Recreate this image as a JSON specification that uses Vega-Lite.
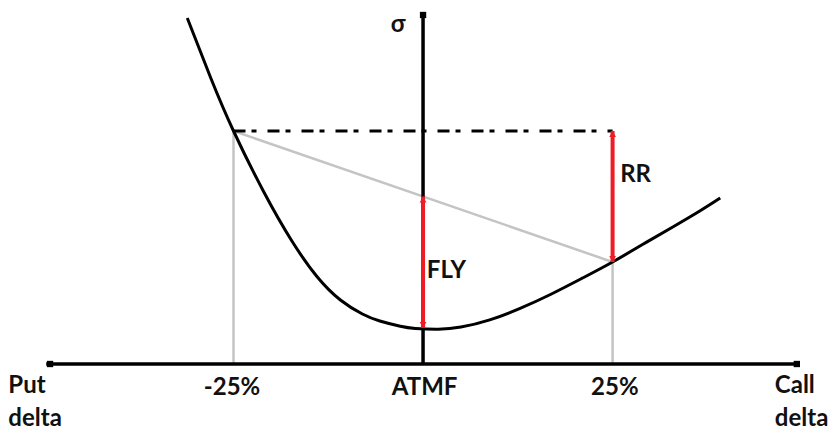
{
  "$schema": "https://vega.github.io/schema/vega-lite/v6.json",
  "width": 837,
  "height": 435,
  "autosize": {"type": "none"},
  "padding": 0,
  "background": "white",
  "config": {"view": {"stroke": null}},
  "datasets": {
    "curve": [
      {"x": -31.1, "y": 34.6}, {"x": -28.0, "y": 28.6}, {"x": -25.0, "y": 23.3},
      {"x": -21.0, "y": 17.2}, {"x": -17.3, "y": 12.3}, {"x": -14.0, "y": 8.75},
      {"x": -10.9, "y": 6.4}, {"x": -8.0, "y": 5.0}, {"x": -5.7, "y": 4.3},
      {"x": -3.0, "y": 3.78}, {"x": -1.0, "y": 3.56}, {"x": 2.0, "y": 3.48},
      {"x": 5.0, "y": 3.69}, {"x": 8.8, "y": 4.41}, {"x": 12.8, "y": 5.56},
      {"x": 16.8, "y": 6.95}, {"x": 21.0, "y": 8.58}, {"x": 25.0, "y": 10.2},
      {"x": 29.0, "y": 11.97}, {"x": 33.0, "y": 13.73}, {"x": 36.5, "y": 15.3},
      {"x": 39.2, "y": 16.6}
    ],
    "guides": [
      {"x": -25, "y": 0, "x2": -25, "y2": 23.3},
      {"x": 25, "y": 0, "x2": 25, "y2": 10.2},
      {"x": -25, "y": 23.3, "x2": 25, "y2": 10.2}
    ],
    "level": [{"x": -25, "y": 23.3, "x2": 25, "y2": 23.3}],
    "axes": [
      {"x": -49.7, "y": 0, "x2": 49.7, "y2": 0},
      {"x": 0, "y": 0, "x2": 0, "y2": 35.2}
    ],
    "tips": [{"x": -49.2, "y": 0}, {"x": 49.3, "y": 0}, {"x": 0, "y": 34.9}],
    "spreads": [
      {"name": "FLY", "x": 0, "lo": 3.6, "hi": 16.75},
      {"name": "RR", "x": 25, "lo": 10.2, "hi": 23.3}
    ],
    "leftLabels": [
      {"label": "Put", "x": -54.7, "y": -2.9},
      {"label": "delta", "x": -54.7, "y": -6.2},
      {"label": "Call", "x": 46.4, "y": -2.9},
      {"label": "delta", "x": 46.4, "y": -6.2},
      {"label": "FLY", "x": 0.5, "y": 8.6},
      {"label": "RR", "x": 26.0, "y": 18.2}
    ],
    "centerLabels": [
      {"label": "σ", "x": -3.3, "y": 33.2},
      {"label": "-25%", "x": -25.2, "y": -3.1},
      {"label": "ATMF", "x": 0.2, "y": -3.1},
      {"label": "25%", "x": 25.3, "y": -3.1}
    ]
  },
  "encoding": {
    "x": {"field": "x", "type": "quantitative", "scale": {"domain": [-55.8, 54.6], "nice": false, "zero": false}, "axis": null},
    "y": {"field": "y", "type": "quantitative", "scale": {"domain": [-7.1, 36.4], "nice": false, "zero": false}, "axis": null}
  },
  "layer": [
    {
      "data": {"name": "guides"},
      "mark": {"type": "rule", "color": "#c4c4c4", "strokeWidth": 2.5},
      "encoding": {"x2": {"field": "x2"}, "y2": {"field": "y2"}}
    },
    {
      "data": {"name": "level"},
      "mark": {"type": "rule", "color": "#000000", "strokeWidth": 3, "strokeDash": [12, 6, 5, 11]},
      "encoding": {"x2": {"field": "x2"}, "y2": {"field": "y2"}}
    },
    {
      "data": {"name": "axes"},
      "mark": {"type": "rule", "color": "#000000", "strokeWidth": 3.5},
      "encoding": {"x2": {"field": "x2"}, "y2": {"field": "y2"}}
    },
    {
      "data": {"name": "tips"},
      "mark": {"type": "point", "shape": "square", "filled": true, "color": "#000000", "size": 40, "opacity": 1}
    },
    {
      "data": {"name": "curve"},
      "mark": {"type": "line", "color": "#000000", "strokeWidth": 3, "interpolate": "natural"}
    },
    {
      "data": {"name": "spreads"},
      "mark": {"type": "rule", "color": "#ee1c25", "strokeWidth": 4},
      "encoding": {"y": {"field": "lo", "type": "quantitative"}, "y2": {"field": "hi"}}
    },
    {
      "data": {"name": "spreads"},
      "mark": {"type": "point", "shape": "triangle-up", "filled": true, "color": "#ee1c25", "size": 45, "opacity": 1, "yOffset": 3},
      "encoding": {"y": {"field": "hi", "type": "quantitative"}}
    },
    {
      "data": {"name": "spreads"},
      "mark": {"type": "point", "shape": "triangle-down", "filled": true, "color": "#ee1c25", "size": 45, "opacity": 1, "yOffset": -3},
      "encoding": {"y": {"field": "lo", "type": "quantitative"}}
    },
    {
      "data": {"name": "leftLabels"},
      "mark": {"type": "text", "align": "left", "baseline": "alphabetic", "font": "Lato", "fontWeight": "bold", "fontSize": 24, "color": "#111111"},
      "encoding": {"text": {"field": "label"}}
    },
    {
      "data": {"name": "centerLabels"},
      "mark": {"type": "text", "align": "center", "baseline": "alphabetic", "font": "Lato", "fontWeight": "bold", "fontSize": 24, "color": "#111111"},
      "encoding": {"text": {"field": "label"}}
    }
  ]
}
